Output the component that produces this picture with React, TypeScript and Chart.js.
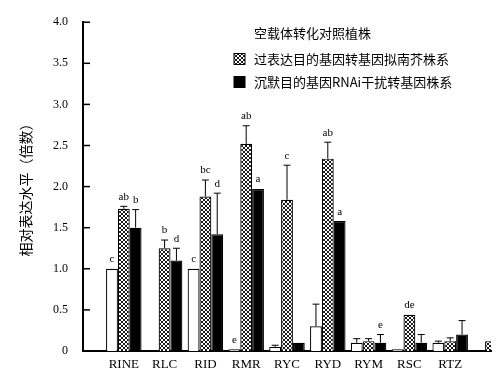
import React, { useEffect, useRef } from "react";
import { Chart, registerables } from "chart.js";

Chart.register(...registerables);

const categories = ["", "RINE", "RLC", "RID", "RMR", "RYC", "RYD", "RYM", "RSC", "RTZ", ""];
const seriesNames = [
  "空载体转化对照植株",
  "过表达目的基因转基因拟南芥株系",
  "沉默目的基因RNAi干扰转基因株系",
];
const controlValues = [null, 1.0, null, 1.0, 0.02, 0.05, 0.3, 0.1, 0.02, 0.1, null];
const controlErrors = [0, 0, 0, 0, 0, 0.02, 0.27, 0.05, 0, 0.02, 0];
const overValues = [null, 1.73, 1.25, 1.88, 2.52, 1.84, 2.34, 0.12, 0.44, 0.12, 0.12];
const overErrors = [0, 0.03, 0.1, 0.2, 0.22, 0.42, 0.2, 0.03, 0, 0.04, 0];
const silenceValues = [null, 1.5, 1.1, 1.42, 1.97, 0.1, 1.58, 0.1, 0.1, 0.2, null];
const silenceErrors = [0, 0.22, 0.15, 0.5, 0, 0, 0, 0.1, 0.1, 0.17, 0];
const controlLetters = ["", "c", "", "c", "e", "", "", "", "", "", ""];
const overLetters = ["", "ab", "b", "bc", "ab", "c", "ab", "", "de", "", ""];
const silenceLetters = ["", "b", "d", "d", "a", "", "a", "e", "", "", ""];
const yTickValues = [0, 0.5, 1.0, 1.5, 2.0, 2.5, 3.0, 3.5, 4.0];
const yTitle = "相对表达水平（倍数）";

const SERIF = "'Liberation Serif', 'DejaVu Serif', serif";
const CJK = "'Noto Sans CJK SC', sans-serif";

function makeHatch(): CanvasPattern | string {
  const pc = document.createElement("canvas");
  pc.width = 4;
  pc.height = 4;
  const p = pc.getContext("2d");
  if (!p) return "#888";
  p.fillStyle = "#fff";
  p.fillRect(0, 0, 4, 4);
  p.strokeStyle = "#000";
  p.lineWidth = 0.9;
  p.beginPath();
  p.moveTo(0, 0);
  p.lineTo(4, 4);
  p.moveTo(4, 0);
  p.lineTo(0, 4);
  p.stroke();
  const pat = p.createPattern(pc, "repeat");
  return pat || "#888";
}

export default function App() {
  const ref = useRef<HTMLCanvasElement | null>(null);

  useEffect(() => {
    document.body.style.margin = "0";
    const canvas = ref.current;
    if (!canvas) return;
    const hatch = makeHatch();
    const errs = [controlErrors, overErrors, silenceErrors];
    const letters = [controlLetters, overLetters, silenceLetters];

    const overlay = {
      id: "overlay",
      afterDatasetsDraw(chart: any) {
        const ctx = chart.ctx;
        const y = chart.scales.y;
        const area = chart.chartArea;
        ctx.save();
        // inward ticks on y axis
        ctx.strokeStyle = "#000";
        ctx.lineWidth = 1.5;
        yTickValues.forEach((v) => {
          const py = y.getPixelForValue(v);
          ctx.beginPath();
          ctx.moveTo(area.left, py);
          ctx.lineTo(area.left + 7, py);
          ctx.stroke();
        });
        // error bars and letters
        ctx.beginPath();
        ctx.rect(area.left, 0, area.right - area.left, area.bottom + 1);
        ctx.clip();
        chart.data.datasets.forEach((ds: any, di: number) => {
          const meta = chart.getDatasetMeta(di);
          meta.data.forEach((bar: any, i: number) => {
            const v = ds.data[i];
            if (v === null || v === undefined) return;
            const e = errs[di][i] || 0;
            const x = bar.x;
            const top = y.getPixelForValue(v);
            const et = y.getPixelForValue(v + e);
            if (e > 0) {
              ctx.strokeStyle = "#000";
              ctx.lineWidth = 1;
              ctx.beginPath();
              ctx.moveTo(x, top);
              ctx.lineTo(x, et);
              ctx.moveTo(x - 3.5, et);
              ctx.lineTo(x + 3.5, et);
              ctx.stroke();
            }
            const t = letters[di][i];
            if (t) {
              ctx.fillStyle = "#000";
              ctx.font = "11px " + SERIF;
              ctx.textAlign = "center";
              ctx.textBaseline = "bottom";
              ctx.fillText(t, x, et - 4);
            }
          });
        });
        ctx.restore();
        // legend
        ctx.save();
        ctx.font = "13px " + CJK;
        ctx.textBaseline = "middle";
        ctx.textAlign = "left";
        ctx.fillStyle = "#000";
        const rows = [33, 59, 82];
        const fills = [null, hatch, "#000"];
        chart.data.datasets.forEach((ds: any, di: number) => {
          const cy = rows[di];
          const f = fills[di];
          if (f) {
            ctx.fillStyle = f as any;
            ctx.fillRect(234, cy - 5.5, 11, 11);
            ctx.strokeStyle = "#000";
            ctx.lineWidth = 1;
            ctx.strokeRect(234, cy - 5.5, 11, 11);
          }
          ctx.fillStyle = "#000";
          ctx.fillText(ds.label, 254, cy);
        });
        ctx.restore();
      },
    };

    const chart = new Chart(canvas, {
      type: "bar",
      data: {
        labels: categories,
        datasets: [
          {
            label: seriesNames[0],
            data: controlValues,
            backgroundColor: "#fff",
            borderColor: "#000",
            borderWidth: 1.2,
          },
          {
            label: seriesNames[1],
            data: overValues,
            backgroundColor: hatch as any,
            borderColor: "#000",
            borderWidth: 1.2,
          },
          {
            label: seriesNames[2],
            data: silenceValues,
            backgroundColor: "#000",
            borderColor: "#000",
            borderWidth: 1.2,
          },
        ],
      },
      options: {
        responsive: false,
        animation: false,
        layout: { padding: { top: 16, right: 0, left: 0, bottom: 0 } },
        datasets: { bar: { categoryPercentage: 0.87, barPercentage: 1.0 } },
        plugins: {
          legend: { display: false },
          tooltip: { enabled: false },
        },
        scales: {
          x: {
            offset: false,
            grid: { display: false, drawTicks: false },
            border: { display: true, color: "#000", width: 2 },
            ticks: {
              color: "#000",
              font: { family: SERIF, size: 13 },
              padding: 6,
              maxRotation: 0,
              autoSkip: false,
            },
            afterFit: (s: any) => {
              s.height = 31;
            },
          },
          y: {
            min: 0,
            max: 4,
            grid: { display: false, drawTicks: false },
            border: { display: true, color: "#000", width: 2 },
            afterBuildTicks: (s: any) => {
              s.ticks = yTickValues.map((v) => ({ value: v }));
            },
            ticks: {
              color: "#000",
              font: { family: SERIF, size: 12 },
              padding: 15,
              callback: (v: any) => (Number(v) === 0 ? "0" : Number(v).toFixed(1)),
            },
            title: {
              display: true,
              text: yTitle,
              color: "#000",
              font: { family: CJK, size: 14 },
              padding: { top: 17, bottom: 0 },
            },
            afterFit: (s: any) => {
              s.width = 83;
            },
          },
        },
      },
      plugins: [overlay],
    });
    return () => chart.destroy();
  }, []);

  return (
    <div style={{ width: 497, height: 382 }}>
      <canvas ref={ref} width={497} height={382} style={{ display: "block" }} />
    </div>
  );
}
